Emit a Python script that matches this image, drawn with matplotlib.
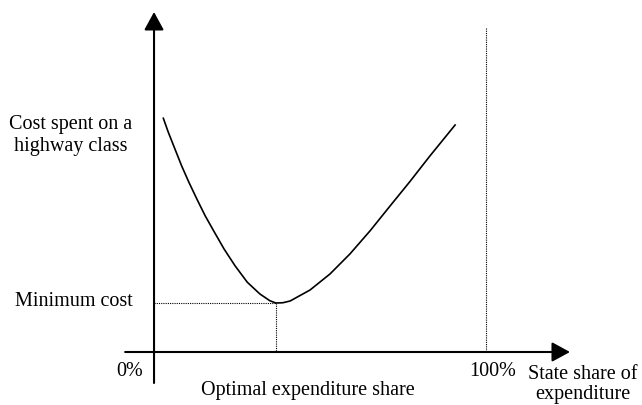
import matplotlib.pyplot as plt

# conceptual curve: share in %, cost in arbitrary units
share = [2.8, 4.3, 6.3, 8.3, 10.5, 12.9, 15.4, 18.2, 21.1, 24.4, 28.1, 31.9,
         34.9, 36.7, 38.8, 41.0, 47.0, 53.0, 59.0, 65.1, 71.1, 77.1, 83.1, 90.7]
cost = [93.5, 87.9, 81.2, 74.5, 67.9, 61.2, 54.5, 47.9, 41.2, 34.5, 27.9, 23.2,
        20.5, 19.6, 19.7, 20.4, 24.8, 31.2, 39.2, 48.5, 58.4, 68.2, 78.4, 90.8]
opt_share = 36.7
min_cost = 19.6
full_share = 100

plt.rcParams['font.family'] = ['Liberation Serif', 'DejaVu Serif']

fig = plt.figure(figsize=(6.42, 4.06), dpi=100)
ax = fig.add_axes([0, 0, 1, 1])
ax.set_xlim(-46.4, 147.0)
ax.set_ylim(-21.2, 141.2)
ax.axis('off')

arrow = dict(arrowstyle='-|>,head_length=0.55,head_width=0.3', color='black',
             lw=1.5, mutation_scale=20, shrinkA=0, shrinkB=0)
# y axis
ax.annotate('', xy=(0, 136), xytext=(0, -12.4), arrowprops=arrow)
# x axis
ax.annotate('', xy=(125.3, 0), xytext=(-8.7, 0), arrowprops=arrow)

ax.plot(share, cost, color='black', lw=1.2, solid_joinstyle='round')

dot = dict(color='black', lw=0.8, linestyle=(0, (1, 1)))
ax.plot([0, opt_share], [min_cost, min_cost], **dot)
ax.plot([opt_share, opt_share], [min_cost, 0], **dot)
ax.plot([full_share, full_share], [129.6, 0], **dot)

fs = 14.5
ax.text(-25.0, 87.0, 'Cost spent on a\nhighway class', ha='center', va='center',
        fontsize=fs, linespacing=1.18)
ax.text(-24.1, 20.4, 'Minimum cost', ha='center', va='center', fontsize=fs)
ax.text(-7.4, -7.6, '0%', ha='center', va='center', fontsize=fs)
ax.text(46.4, -15.2, 'Optimal expenditure share', ha='center', va='center', fontsize=fs)
ax.text(102, -7.6, '100%', ha='center', va='center', fontsize=fs)
ax.text(129.2, -12.6, 'State share of\nexpenditure', ha='center', va='center',
        fontsize=fs, linespacing=1.12)

fig.savefig('out.png', dpi=100)
